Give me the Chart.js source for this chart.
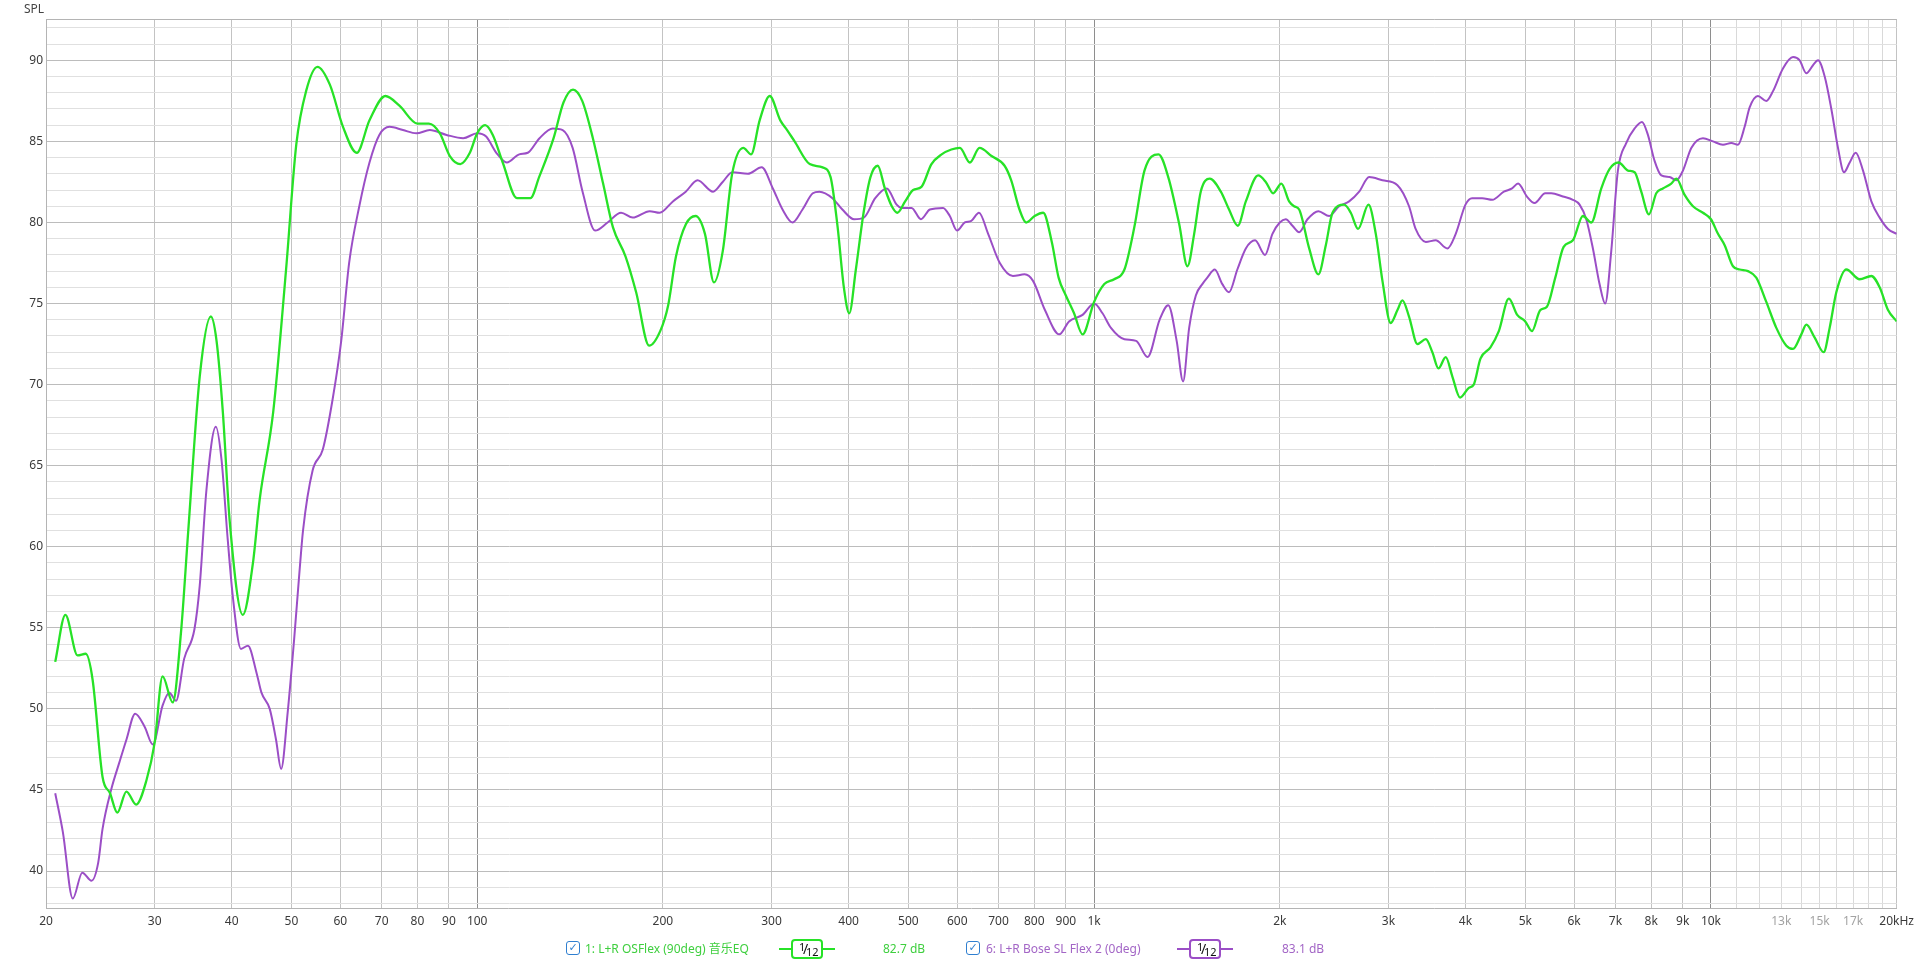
<!DOCTYPE html>
<html>
<head>
<meta charset="utf-8">
<title>SPL</title>
<script src="https://cdn.jsdelivr.net/npm/chart.js@4/dist/chart.umd.min.js"></script>
<style>
  html, body { margin: 0; padding: 0; background: #fff; }
  #wrap { position: relative; width: 1920px; height: 963px; overflow: hidden;
          font-family: "Noto Sans", "Noto Sans CJK SC", sans-serif; }
  #spl_plot { position: absolute; left: 0; top: 0; }
  .txt { position: absolute; font-size: 12px; line-height: 14px; white-space: nowrap; color: #444; }
  .chk { position: absolute; top: 941px; width: 12px; height: 12px; border: 1.5px solid #2f7fd0;
         border-radius: 3px; background: #fff; color: #2f7fd0; font-size: 11px; font-weight: bold;
         line-height: 12px; text-align: center; font-family: "DejaVu Sans", sans-serif; }
  .smooth { position: absolute; top: 939px; width: 56px; height: 20px; }
  .smooth .ln { position: absolute; left: 0; right: 0; top: 9px; height: 2px; }
  .smooth .bx { position: absolute; left: 12px; top: 0; width: 28px; height: 16px; border-width: 2px;
                border-style: solid; border-radius: 4px; background: #fff; color: #111; font-size: 11px; }
  .bx .n { position: absolute; left: 6px; top: -2px; }
  .bx .s { position: absolute; left: 10px; top: -2px; font-size: 14px; }
  .bx .d { position: absolute; left: 13px; top: 3px; }
</style>
</head>
<body>
<div id="wrap">
  <canvas id="spl_plot" width="1920" height="963"></canvas>
  <div class="txt" style="left:24px; top:2px;">SPL</div>
  <div id="spl_legend"></div>
</div>
<script>
// green trace: 1: L+R OSFlex (90deg)
const greenFreq = [
  20.7, 21.5, 22.5, 23.2, 23.8, 24.7, 25.4, 26.1, 27.0, 28.0,
  29.1, 30.0, 30.9, 32.1, 33.1, 34.0, 35.5, 37.0, 37.8, 38.7,
  39.7, 41.7, 43.3, 44.4, 46.7, 49.0, 50.9, 52.8, 55.1, 57.7,
  60.6, 63.8, 66.9, 71.0, 74.8, 80, 83.5, 87, 90.3, 93.9,
  97.3, 100, 103, 106, 110, 116, 122, 126, 133, 138,
  143, 148, 154, 160, 166, 174, 181, 190, 198, 204,
  210, 218, 226, 234, 242, 250, 259, 270, 278, 287,
  298, 310, 318, 327, 346, 363, 374, 384, 393, 401,
  411, 423, 434, 446, 458, 470, 480, 494, 509, 525,
  545, 566, 587, 606, 629, 652, 682, 716, 734, 757,
  776, 801, 827, 854, 876, 900, 928, 958, 1000, 1039,
  1078, 1120, 1162, 1207, 1272, 1319, 1374, 1417, 1453, 1489,
  1540, 1605, 1655, 1710, 1762, 1845, 1898, 1951, 2012, 2071,
  2110, 2150, 2232, 2310, 2375, 2435, 2543, 2607, 2679, 2785,
  2862, 2934, 3026, 3103, 3161, 3240, 3343, 3449, 3535, 3616,
  3716, 3809, 3920, 4050, 4125, 4230, 4391, 4530, 4703, 4852,
  5000, 5126, 5288, 5421, 5593, 5770, 5973, 6200, 6397, 6641,
  6851, 7085, 7336, 7521, 7709, 7933, 8153, 8357, 8623, 8786,
  9064, 9350, 9705, 10000, 10265, 10524, 10856, 11130, 11482, 11843,
  12294, 12763, 13250, 13583, 14012, 14276, 14728, 15231, 15574, 15966,
  16573, 17418, 18197, 18770, 19364, 20000
];
const greenSpl = [
  52.9, 55.8, 53.3, 53.4, 51.8, 45.8, 44.8, 43.6, 44.9, 44.1,
  45.6, 47.9, 52.0, 50.4, 54.7, 60.9, 70.5, 74.2, 72.7, 68.3,
  61.6, 55.8, 59.0, 62.9, 68.3, 77.1, 84.8, 88.1, 89.6, 88.5,
  85.9, 84.3, 86.3, 87.8, 87.2, 86.1, 86.1, 85.5, 84.1, 83.6,
  84.3, 85.5, 86.0, 85.4, 83.7, 81.5, 81.5, 82.8, 85.2, 87.4,
  88.2, 87.5, 85.2, 82.4, 79.7, 77.9, 75.7, 72.4, 73.3, 74.9,
  77.9, 79.9, 80.4, 79.3, 76.3, 78.2, 83.0, 84.6, 84.2, 86.3,
  87.8, 86.3, 85.7, 85.0, 83.6, 83.4, 82.8, 79.7, 76.0, 74.4,
  77.1, 80.6, 82.8, 83.5, 82.1, 81.0, 80.6, 81.3, 82.0, 82.2,
  83.6, 84.2, 84.5, 84.6, 83.7, 84.6, 84.1, 83.5, 82.6, 80.8,
  80.0, 80.4, 80.6, 78.8, 76.6, 75.5, 74.4, 73.1, 75.1, 76.2,
  76.5, 77.1, 79.7, 83.2, 84.2, 82.8, 79.9, 77.3, 79.3, 81.9,
  82.7, 81.9, 80.8, 79.8, 81.3, 82.9, 82.5, 81.8, 82.4, 81.3,
  81.0, 80.8, 78.4, 76.8, 78.6, 80.6, 81.1, 80.6, 79.6, 81.1,
  79.3, 76.4, 73.8, 74.6, 75.2, 74.2, 72.5, 72.8, 72.0, 71.0,
  71.7, 70.5, 69.2, 69.8, 70.0, 71.6, 72.3, 73.3, 75.3, 74.3,
  73.9, 73.3, 74.6, 74.8, 76.6, 78.5, 78.9, 80.4, 80.0, 82.1,
  83.3, 83.7, 83.2, 83.1, 81.9, 80.5, 81.8, 82.1, 82.4, 82.7,
  81.7, 81.0, 80.6, 80.2, 79.3, 78.6, 77.3, 77.1, 77.0, 76.6,
  75.1, 73.5, 72.4, 72.2, 73.1, 73.7, 72.9, 72.0, 73.5, 75.7,
  77.1, 76.5, 76.7, 76.0, 74.6, 73.9
];

// purple trace: 6: L+R Bose SL Flex 2 (0deg)
const purpleFreq = [
  20.7, 21.3, 22.1, 22.9, 23.7, 24.3, 24.7, 25.5, 26.3, 27.0,
  27.9, 28.9, 29.8, 30.9, 31.7, 32.5, 33.5, 34.8, 35.5, 36.4,
  37.7, 38.5, 39.4, 40.2, 41.4, 42.5, 43.9, 44.7, 46.1, 47.2,
  48.1, 49.3, 50.5, 51.5, 52.2, 54.1, 56.2, 58.3, 60.2, 62.0,
  64.4, 66.9, 69.4, 72.1, 75.8, 79.7, 83.8, 89.2, 94.9, 100,
  103.4, 107.4, 111.7, 117, 120.8, 126.2, 132.6, 137.6, 142.8, 148.2,
  155.3, 162.7, 171.1, 178.7, 190.4, 197.6, 207.6, 217.8, 227.6, 241.2,
  250, 259.2, 274.6, 289.2, 301.5, 312.6, 324.4, 336.8, 350, 358.8,
  376.6, 390.8, 408.2, 423.4, 441.8, 461.2, 478.6, 487.6, 506, 524,
  541.8, 569.2, 583.6, 599.6, 617.2, 632.4, 650.8, 673.4, 703.4, 738.6,
  771.6, 796.2, 832.4, 878.2, 910.8, 958, 1000, 1032, 1065, 1120,
  1170, 1221, 1277, 1319, 1361, 1394, 1426, 1462, 1498, 1526,
  1569, 1614, 1655, 1707, 1762, 1824, 1893, 1946, 2000, 2045,
  2097, 2150, 2218, 2310, 2405, 2496, 2591, 2690, 2792, 2934,
  3103, 3240, 3321, 3449, 3579, 3738, 3857, 4000, 4100, 4257,
  4421, 4616, 4760, 4868, 5031, 5177, 5388, 5511, 5754, 5973,
  6124, 6278, 6436, 6598, 6738, 6891, 7065, 7288, 7521, 7731,
  7903, 8102, 8308, 8570, 8786, 9007, 9292, 9705, 10075, 10459,
  10789, 11060, 11339, 11554, 11916, 12294, 12606, 13083, 13583, 13925,
  14276, 14636, 14912, 15288, 15672, 16066, 16433, 16785, 17164, 17640,
  18197, 18770, 19364, 20000
];
const purpleSpl = [
  44.8, 42.4, 38.3, 39.9, 39.4, 40.5, 42.6, 45.0, 46.7, 48.1,
  49.7, 48.9, 47.8, 50.2, 51.0, 50.5, 53.1, 54.9, 57.6, 63.5,
  67.4, 65.4, 60.5, 56.8, 53.7, 53.9, 52.2, 51.0, 50.0, 48.1,
  46.3, 49.8, 54.3, 58.4, 61.0, 64.7, 66.0, 69.1, 72.7, 77.5,
  81.0, 83.7, 85.4, 85.9, 85.7, 85.5, 85.7, 85.4, 85.2, 85.5,
  85.3, 84.3, 83.7, 84.2, 84.3, 85.2, 85.8, 85.7, 84.6, 81.9,
  79.5, 80.0, 80.6, 80.3, 80.7, 80.6, 81.3, 81.9, 82.6, 81.9,
  82.5, 83.1, 83.0, 83.4, 82.1, 80.8, 80.0, 80.8, 81.8, 81.9,
  81.5, 80.8, 80.2, 80.3, 81.5, 82.1, 81.1, 80.9, 80.9, 80.2,
  80.8, 80.9, 80.4, 79.5, 80.0, 80.1, 80.6, 79.3, 77.5, 76.7,
  76.8, 76.4, 74.6, 73.1, 73.9, 74.3, 75.0, 74.4, 73.5, 72.8,
  72.7, 71.7, 74.0, 74.9, 72.7, 70.2, 73.5, 75.5, 76.2, 76.6,
  77.1, 76.2, 75.7, 77.1, 78.4, 78.9, 78.0, 79.3, 80.0, 80.2,
  79.8, 79.4, 80.2, 80.7, 80.4, 81.0, 81.3, 81.9, 82.8, 82.6,
  82.3, 81.0, 79.6, 78.8, 78.9, 78.4, 79.3, 81.1, 81.5, 81.5,
  81.4, 81.9, 82.1, 82.4, 81.6, 81.2, 81.8, 81.8, 81.6, 81.4,
  81.1, 80.2, 78.4, 76.2, 75.0, 78.2, 83.2, 84.9, 85.8, 86.2,
  85.4, 83.8, 82.9, 82.8, 82.6, 83.2, 84.6, 85.2, 85.0, 84.8,
  84.9, 84.8, 85.9, 87.1, 87.8, 87.5, 88.1, 89.5, 90.2, 90.0,
  89.2, 89.7, 90.0, 89.0, 87.0, 84.6, 83.1, 83.7, 84.3, 83.2,
  81.3, 80.3, 79.6, 79.3
];

const seriesNames = ['1: L+R OSFlex (90deg) 音乐EQ', '6: L+R Bose SL Flex 2 (0deg)'];
const seriesLevels = ['82.7 dB', '83.1 dB'];
const seriesSmoothing = [['1', '12'], ['1', '12']];
const seriesColors = ['#27e227', '#9b4ec6'];
const legendTextColors = ['#3fcf3f', '#a366c6'];

// axis ticks
const xTicks = [20, 30, 40, 50, 60, 70, 80, 90, 100, 200, 300, 400, 500, 600, 700, 800, 900,
  1000, 2000, 3000, 4000, 5000, 6000, 7000, 8000, 9000, 10000,
  11000, 12000, 13000, 14000, 15000, 16000, 17000, 18000, 19000, 20000];
const xTickLabels = ['20', '30', '40', '50', '60', '70', '80', '90', '100', '200', '300', '400', '500', '600', '700', '800', '900',
  '1k', '2k', '3k', '4k', '5k', '6k', '7k', '8k', '9k', '10k',
  '', '', '13k', '', '15k', '', '17k', '', '', '20kHz'];
const xFaintTicks = [13000, 15000, 17000];
const yTickLabels = [40, 45, 50, 55, 60, 65, 70, 75, 80, 85, 90];

const Y_MIN = 37.72, Y_MAX = 92.55;
const chartFont = '"Noto Sans", "Noto Sans CJK SC", sans-serif';

function toPoints(freq, spl) {
    let pts = [];
    for (let i = 0; i < freq.length; i++) {
        pts.push({x: freq[i], y: spl[i]});
    }
    return pts;
}

function dbGridTicks() {
    // one line per dB, plus the top edge
    let t = [];
    for (let v = 38; v <= 92; v++) t.push({value: v});
    t.push({value: Y_MAX});
    return t;
}

function buildLegend() {
    const spots = [[566, 585, 779, 883], [966, 986, 1177, 1282]];
    let html = '';
    for (let i = 0; i < seriesNames.length; i++) {
        const p = spots[i];
        html += '<span class="chk" style="left:' + p[0] + 'px">&#10003;</span>';
        html += '<span class="txt" style="left:' + p[1] + 'px; top:942px; color:' + legendTextColors[i] + '">' + seriesNames[i] + '</span>';
        html += '<span class="smooth" style="left:' + p[2] + 'px"><span class="ln" style="background:' + seriesColors[i] + '"></span>' +
                '<span class="bx" style="border-color:' + seriesColors[i] + '"><span class="n">' + seriesSmoothing[i][0] +
                '</span><span class="s">/</span><span class="d">' + seriesSmoothing[i][1] + '</span></span></span>';
        html += '<span class="txt" style="left:' + p[3] + 'px; top:942px; color:' + legendTextColors[i] + '">' + seriesLevels[i] + '</span>';
    }
    document.getElementById('spl_legend').innerHTML = html;
}

function plotSpl() {
    const ctx = document.getElementById('spl_plot');
    window.spl_plot = new Chart(ctx, {
        type: 'line',
        data: {
            datasets: [{
                label: seriesNames[0],
                data: toPoints(greenFreq, greenSpl),
                borderColor: seriesColors[0],
                borderWidth: 2.3,
                pointRadius: 0,
                fill: false,
                cubicInterpolationMode: 'monotone'
            }, {
                label: seriesNames[1],
                data: toPoints(purpleFreq, purpleSpl),
                borderColor: seriesColors[1],
                borderWidth: 2,
                pointRadius: 0,
                fill: false,
                cubicInterpolationMode: 'monotone'
            }]
        },
        options: {
            responsive: false,
            animation: false,
            events: [],
            layout: {padding: {left: 0, right: 23, top: 19, bottom: 0}},
            plugins: {
                legend: {display: false},
                tooltip: {enabled: false}
            },
            scales: {
                x: {
                    type: 'logarithmic',
                    min: 20,
                    max: 20000,
                    afterBuildTicks: (scale) => { scale.ticks = xTicks.map(v => ({value: v})); },
                    afterFit: (scale) => { scale.height = 55; },
                    border: {color: '#b4b4b4'},
                    grid: {
                        drawTicks: false,
                        color: (c) => {
                            const v = c.tick ? c.tick.value : 0;
                            if (v === 100 || v === 1000 || v === 10000) return '#8e8e8e';
                            if (v > 10000 && v < 20000) return '#d9d9d9';
                            return '#c3c3c3';
                        }
                    },
                    ticks: {
                        autoSkip: false,
                        maxRotation: 0,
                        minRotation: 0,
                        padding: 6,
                        font: {family: chartFont, size: 12},
                        color: (c) => (c.tick && xFaintTicks.includes(c.tick.value)) ? '#a3a3a3' : '#3a3a3a',
                        callback: (v) => {
                            const i = xTicks.indexOf(v);
                            return i < 0 ? '' : xTickLabels[i];
                        }
                    }
                },
                y: {
                    type: 'linear',
                    min: Y_MIN,
                    max: Y_MAX,
                    afterBuildTicks: (scale) => { scale.ticks = dbGridTicks(); },
                    afterFit: (scale) => { scale.width = 46; },
                    border: {color: '#b4b4b4'},
                    grid: {
                        drawTicks: false,
                        color: (c) => {
                            const v = c.tick ? c.tick.value : 0;
                            if (v === Y_MAX) return '#b4b4b4';
                            return v % 5 === 0 ? '#bcbcbc' : '#e0e0e0';
                        }
                    },
                    ticks: {
                        autoSkip: false,
                        padding: 3,
                        font: {family: chartFont, size: 12},
                        color: '#3a3a3a',
                        callback: (v) => yTickLabels.includes(v) ? String(v) : ''
                    }
                }
            }
        }
    });
}

function init() {
    buildLegend();
    plotSpl();
}
window.onload = init;
</script>
</body>
</html>
